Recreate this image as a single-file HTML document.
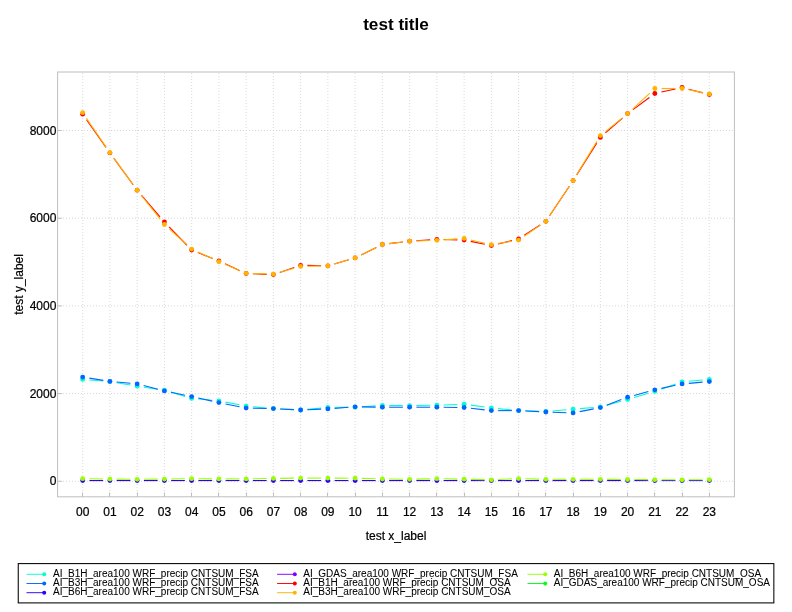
<!DOCTYPE html>
<html lang="en">
<head>
<meta charset="utf-8">
<title>test title</title>
<style>
html,body{margin:0;padding:0;background:#fff;}
body{width:792px;height:612px;overflow:hidden;}
svg{display:block;}
text{font-family:"Liberation Sans", sans-serif;fill:#000;}
.ax text{stroke:#000;stroke-width:0.22px;stroke-linejoin:round;}
.lg text{stroke:#000;stroke-width:0.06px;}
</style>
</head>
<body>
<svg width="792" height="612" viewBox="0 0 792 612">
<rect x="0" y="0" width="792" height="612" fill="#ffffff"/>
<text x="396" y="30.2" text-anchor="middle" font-size="17.15" font-weight="bold">test title</text>
<g stroke="#d1d1d1" stroke-width="0.8" stroke-dasharray="1 2" fill="none">
<line x1="82.67" y1="497" x2="82.67" y2="72.0"/>
<line x1="109.91" y1="497" x2="109.91" y2="72.0"/>
<line x1="137.16" y1="497" x2="137.16" y2="72.0"/>
<line x1="164.41" y1="497" x2="164.41" y2="72.0"/>
<line x1="191.65" y1="497" x2="191.65" y2="72.0"/>
<line x1="218.90" y1="497" x2="218.90" y2="72.0"/>
<line x1="246.14" y1="497" x2="246.14" y2="72.0"/>
<line x1="273.39" y1="497" x2="273.39" y2="72.0"/>
<line x1="300.64" y1="497" x2="300.64" y2="72.0"/>
<line x1="327.88" y1="497" x2="327.88" y2="72.0"/>
<line x1="355.13" y1="497" x2="355.13" y2="72.0"/>
<line x1="382.38" y1="497" x2="382.38" y2="72.0"/>
<line x1="409.62" y1="497" x2="409.62" y2="72.0"/>
<line x1="436.87" y1="497" x2="436.87" y2="72.0"/>
<line x1="464.12" y1="497" x2="464.12" y2="72.0"/>
<line x1="491.36" y1="497" x2="491.36" y2="72.0"/>
<line x1="518.61" y1="497" x2="518.61" y2="72.0"/>
<line x1="545.86" y1="497" x2="545.86" y2="72.0"/>
<line x1="573.10" y1="497" x2="573.10" y2="72.0"/>
<line x1="600.35" y1="497" x2="600.35" y2="72.0"/>
<line x1="627.59" y1="497" x2="627.59" y2="72.0"/>
<line x1="654.84" y1="497" x2="654.84" y2="72.0"/>
<line x1="682.09" y1="497" x2="682.09" y2="72.0"/>
<line x1="709.33" y1="497" x2="709.33" y2="72.0"/>
<line x1="57" y1="481.29" x2="734.4" y2="481.29" stroke-width="0.9"/>
<line x1="57" y1="393.60" x2="734.4" y2="393.60" stroke-width="0.9"/>
<line x1="57" y1="305.91" x2="734.4" y2="305.91" stroke-width="0.9"/>
<line x1="57" y1="218.22" x2="734.4" y2="218.22" stroke-width="0.9"/>
<line x1="57" y1="130.53" x2="734.4" y2="130.53" stroke-width="0.9"/>
</g>
<g stroke="#00FFD4" stroke-width="1.1" stroke-linecap="butt" fill="#00FFD4">
<line x1="89.39" y1="379.94" x2="103.18" y2="381.06"/>
<line x1="116.57" y1="382.72" x2="130.50" y2="385.08"/>
<line x1="143.84" y1="387.18" x2="157.73" y2="389.22"/>
<line x1="170.87" y1="392.15" x2="185.19" y2="396.45"/>
<line x1="198.38" y1="398.99" x2="212.17" y2="400.21"/>
<line x1="225.52" y1="402.09" x2="239.52" y2="404.81"/>
<line x1="252.87" y1="406.72" x2="266.67" y2="407.98"/>
<line x1="280.13" y1="408.95" x2="293.90" y2="409.65"/>
<line x1="307.35" y1="409.33" x2="321.17" y2="407.97"/>
<line x1="334.63" y1="407.28" x2="348.38" y2="407.22"/>
<line x1="361.87" y1="406.76" x2="375.64" y2="405.84"/>
<line x1="389.13" y1="405.45" x2="402.87" y2="405.55"/>
<line x1="416.37" y1="405.50" x2="430.12" y2="405.30"/>
<line x1="443.62" y1="404.95" x2="457.37" y2="404.45"/>
<line x1="470.80" y1="405.13" x2="484.68" y2="407.07"/>
<line x1="498.08" y1="408.64" x2="511.89" y2="409.96"/>
<line x1="525.36" y1="410.82" x2="539.11" y2="411.28"/>
<line x1="552.58" y1="410.93" x2="566.38" y2="409.77"/>
<line x1="579.83" y1="408.66" x2="593.62" y2="407.54"/>
<line x1="606.86" y1="405.21" x2="621.09" y2="401.29"/>
<line x1="634.06" y1="397.58" x2="648.37" y2="393.32"/>
<line x1="661.21" y1="389.16" x2="675.72" y2="384.04"/>
<line x1="688.81" y1="381.23" x2="702.61" y2="380.07"/>
<circle cx="82.67" cy="379.40" r="2.42" stroke="none"/>
<circle cx="109.91" cy="381.60" r="2.42" stroke="none"/>
<circle cx="137.16" cy="386.20" r="2.42" stroke="none"/>
<circle cx="164.41" cy="390.20" r="2.42" stroke="none"/>
<circle cx="191.65" cy="398.40" r="2.42" stroke="none"/>
<circle cx="218.90" cy="400.80" r="2.42" stroke="none"/>
<circle cx="246.14" cy="406.10" r="2.42" stroke="none"/>
<circle cx="273.39" cy="408.60" r="2.42" stroke="none"/>
<circle cx="300.64" cy="410.00" r="2.42" stroke="none"/>
<circle cx="327.88" cy="407.30" r="2.42" stroke="none"/>
<circle cx="355.13" cy="407.20" r="2.42" stroke="none"/>
<circle cx="382.38" cy="405.40" r="2.42" stroke="none"/>
<circle cx="409.62" cy="405.60" r="2.42" stroke="none"/>
<circle cx="436.87" cy="405.20" r="2.42" stroke="none"/>
<circle cx="464.12" cy="404.20" r="2.42" stroke="none"/>
<circle cx="491.36" cy="408.00" r="2.42" stroke="none"/>
<circle cx="518.61" cy="410.60" r="2.42" stroke="none"/>
<circle cx="545.86" cy="411.50" r="2.42" stroke="none"/>
<circle cx="573.10" cy="409.20" r="2.42" stroke="none"/>
<circle cx="600.35" cy="407.00" r="2.42" stroke="none"/>
<circle cx="627.59" cy="399.50" r="2.42" stroke="none"/>
<circle cx="654.84" cy="391.40" r="2.42" stroke="none"/>
<circle cx="682.09" cy="381.80" r="2.42" stroke="none"/>
<circle cx="709.33" cy="379.50" r="2.42" stroke="none"/>
</g>
<g stroke="#0066FF" stroke-width="1.1" stroke-linecap="butt" fill="#0066FF">
<line x1="89.33" y1="378.15" x2="103.25" y2="380.35"/>
<line x1="116.63" y1="382.02" x2="130.44" y2="383.28"/>
<line x1="143.70" y1="385.58" x2="157.87" y2="389.22"/>
<line x1="171.01" y1="392.28" x2="185.05" y2="395.22"/>
<line x1="198.24" y1="398.05" x2="212.31" y2="401.15"/>
<line x1="225.52" y1="403.94" x2="239.53" y2="406.76"/>
<line x1="252.89" y1="408.22" x2="266.64" y2="408.48"/>
<line x1="280.13" y1="408.95" x2="293.90" y2="409.65"/>
<line x1="307.38" y1="409.73" x2="321.14" y2="409.17"/>
<line x1="334.61" y1="408.38" x2="348.40" y2="407.32"/>
<line x1="361.88" y1="406.90" x2="375.63" y2="407.10"/>
<line x1="389.13" y1="407.20" x2="402.87" y2="407.20"/>
<line x1="416.37" y1="407.20" x2="430.12" y2="407.20"/>
<line x1="443.62" y1="407.27" x2="457.37" y2="407.43"/>
<line x1="470.82" y1="408.26" x2="484.66" y2="409.84"/>
<line x1="498.11" y1="410.60" x2="511.86" y2="410.60"/>
<line x1="525.35" y1="410.95" x2="539.11" y2="411.65"/>
<line x1="552.60" y1="412.22" x2="566.36" y2="412.68"/>
<line x1="579.73" y1="411.61" x2="593.72" y2="408.89"/>
<line x1="606.65" y1="405.19" x2="621.29" y2="399.61"/>
<line x1="634.11" y1="395.43" x2="648.33" y2="391.57"/>
<line x1="661.44" y1="388.37" x2="675.49" y2="385.33"/>
<line x1="688.81" y1="383.33" x2="702.61" y2="382.17"/>
<circle cx="82.67" cy="377.10" r="2.42" stroke="none"/>
<circle cx="109.91" cy="381.40" r="2.42" stroke="none"/>
<circle cx="137.16" cy="383.90" r="2.42" stroke="none"/>
<circle cx="164.41" cy="390.90" r="2.42" stroke="none"/>
<circle cx="191.65" cy="396.60" r="2.42" stroke="none"/>
<circle cx="218.90" cy="402.60" r="2.42" stroke="none"/>
<circle cx="246.14" cy="408.10" r="2.42" stroke="none"/>
<circle cx="273.39" cy="408.60" r="2.42" stroke="none"/>
<circle cx="300.64" cy="410.00" r="2.42" stroke="none"/>
<circle cx="327.88" cy="408.90" r="2.42" stroke="none"/>
<circle cx="355.13" cy="406.80" r="2.42" stroke="none"/>
<circle cx="382.38" cy="407.20" r="2.42" stroke="none"/>
<circle cx="409.62" cy="407.20" r="2.42" stroke="none"/>
<circle cx="436.87" cy="407.20" r="2.42" stroke="none"/>
<circle cx="464.12" cy="407.50" r="2.42" stroke="none"/>
<circle cx="491.36" cy="410.60" r="2.42" stroke="none"/>
<circle cx="518.61" cy="410.60" r="2.42" stroke="none"/>
<circle cx="545.86" cy="412.00" r="2.42" stroke="none"/>
<circle cx="573.10" cy="412.90" r="2.42" stroke="none"/>
<circle cx="600.35" cy="407.60" r="2.42" stroke="none"/>
<circle cx="627.59" cy="397.20" r="2.42" stroke="none"/>
<circle cx="654.84" cy="389.80" r="2.42" stroke="none"/>
<circle cx="682.09" cy="383.90" r="2.42" stroke="none"/>
<circle cx="709.33" cy="381.60" r="2.42" stroke="none"/>
</g>
<g stroke="#2B00FF" stroke-width="1.1" stroke-linecap="butt" fill="#2B00FF">
<line x1="89.42" y1="480.55" x2="103.16" y2="480.55"/>
<line x1="116.66" y1="480.55" x2="130.41" y2="480.55"/>
<line x1="143.91" y1="480.55" x2="157.66" y2="480.55"/>
<line x1="171.16" y1="480.55" x2="184.90" y2="480.55"/>
<line x1="198.40" y1="480.55" x2="212.15" y2="480.55"/>
<line x1="225.65" y1="480.55" x2="239.39" y2="480.55"/>
<line x1="252.89" y1="480.55" x2="266.64" y2="480.55"/>
<line x1="280.14" y1="480.55" x2="293.89" y2="480.55"/>
<line x1="307.39" y1="480.55" x2="321.13" y2="480.55"/>
<line x1="334.63" y1="480.55" x2="348.38" y2="480.55"/>
<line x1="361.88" y1="480.55" x2="375.63" y2="480.55"/>
<line x1="389.13" y1="480.55" x2="402.87" y2="480.55"/>
<line x1="416.37" y1="480.55" x2="430.12" y2="480.55"/>
<line x1="443.62" y1="480.55" x2="457.37" y2="480.55"/>
<line x1="470.87" y1="480.55" x2="484.61" y2="480.55"/>
<line x1="498.11" y1="480.55" x2="511.86" y2="480.55"/>
<line x1="525.36" y1="480.55" x2="539.11" y2="480.55"/>
<line x1="552.61" y1="480.55" x2="566.35" y2="480.55"/>
<line x1="579.85" y1="480.55" x2="593.60" y2="480.55"/>
<line x1="607.10" y1="480.55" x2="620.84" y2="480.55"/>
<line x1="634.34" y1="480.55" x2="648.09" y2="480.55"/>
<line x1="661.59" y1="480.55" x2="675.34" y2="480.55"/>
<line x1="688.84" y1="480.55" x2="702.58" y2="480.55"/>
<circle cx="82.67" cy="480.55" r="2.42" stroke="none"/>
<circle cx="109.91" cy="480.55" r="2.42" stroke="none"/>
<circle cx="137.16" cy="480.55" r="2.42" stroke="none"/>
<circle cx="164.41" cy="480.55" r="2.42" stroke="none"/>
<circle cx="191.65" cy="480.55" r="2.42" stroke="none"/>
<circle cx="218.90" cy="480.55" r="2.42" stroke="none"/>
<circle cx="246.14" cy="480.55" r="2.42" stroke="none"/>
<circle cx="273.39" cy="480.55" r="2.42" stroke="none"/>
<circle cx="300.64" cy="480.55" r="2.42" stroke="none"/>
<circle cx="327.88" cy="480.55" r="2.42" stroke="none"/>
<circle cx="355.13" cy="480.55" r="2.42" stroke="none"/>
<circle cx="382.38" cy="480.55" r="2.42" stroke="none"/>
<circle cx="409.62" cy="480.55" r="2.42" stroke="none"/>
<circle cx="436.87" cy="480.55" r="2.42" stroke="none"/>
<circle cx="464.12" cy="480.55" r="2.42" stroke="none"/>
<circle cx="491.36" cy="480.55" r="2.42" stroke="none"/>
<circle cx="518.61" cy="480.55" r="2.42" stroke="none"/>
<circle cx="545.86" cy="480.55" r="2.42" stroke="none"/>
<circle cx="573.10" cy="480.55" r="2.42" stroke="none"/>
<circle cx="600.35" cy="480.55" r="2.42" stroke="none"/>
<circle cx="627.59" cy="480.55" r="2.42" stroke="none"/>
<circle cx="654.84" cy="480.55" r="2.42" stroke="none"/>
<circle cx="682.09" cy="480.55" r="2.42" stroke="none"/>
<circle cx="709.33" cy="480.55" r="2.42" stroke="none"/>
</g>
<g stroke="#FF0000" stroke-width="1.1" stroke-linecap="butt" fill="#FF0000">
<line x1="86.55" y1="119.72" x2="106.03" y2="147.38"/>
<line x1="113.89" y1="158.35" x2="133.18" y2="184.75"/>
<line x1="141.55" y1="195.33" x2="160.01" y2="216.87"/>
<line x1="169.10" y1="226.85" x2="186.95" y2="245.25"/>
<line x1="197.92" y1="252.61" x2="212.63" y2="258.49"/>
<line x1="225.03" y1="263.81" x2="240.01" y2="270.69"/>
<line x1="252.89" y1="273.77" x2="266.65" y2="274.33"/>
<line x1="279.78" y1="272.42" x2="294.25" y2="267.48"/>
<line x1="307.39" y1="265.42" x2="321.14" y2="265.68"/>
<line x1="334.37" y1="263.92" x2="348.65" y2="259.78"/>
<line x1="361.18" y1="254.90" x2="376.33" y2="247.40"/>
<line x1="389.08" y1="243.61" x2="402.92" y2="241.99"/>
<line x1="416.36" y1="240.73" x2="430.14" y2="239.77"/>
<line x1="443.62" y1="239.47" x2="457.37" y2="239.83"/>
<line x1="470.73" y1="241.36" x2="484.75" y2="244.24"/>
<line x1="497.92" y1="244.01" x2="512.05" y2="240.59"/>
<line x1="524.27" y1="235.32" x2="540.19" y2="224.98"/>
<line x1="549.61" y1="215.69" x2="569.35" y2="186.21"/>
<line x1="576.70" y1="174.89" x2="596.75" y2="143.11"/>
<line x1="605.43" y1="132.96" x2="622.51" y2="118.04"/>
<line x1="633.03" y1="109.59" x2="649.41" y2="97.51"/>
<line x1="661.43" y1="92.05" x2="675.49" y2="88.95"/>
<line x1="688.62" y1="89.20" x2="702.80" y2="92.90"/>
<circle cx="82.67" cy="114.20" r="2.42" stroke="none"/>
<circle cx="109.91" cy="152.90" r="2.42" stroke="none"/>
<circle cx="137.16" cy="190.20" r="2.42" stroke="none"/>
<circle cx="164.41" cy="222.00" r="2.42" stroke="none"/>
<circle cx="191.65" cy="250.10" r="2.42" stroke="none"/>
<circle cx="218.90" cy="261.00" r="2.42" stroke="none"/>
<circle cx="246.14" cy="273.50" r="2.42" stroke="none"/>
<circle cx="273.39" cy="274.60" r="2.42" stroke="none"/>
<circle cx="300.64" cy="265.30" r="2.42" stroke="none"/>
<circle cx="327.88" cy="265.80" r="2.42" stroke="none"/>
<circle cx="355.13" cy="257.90" r="2.42" stroke="none"/>
<circle cx="382.38" cy="244.40" r="2.42" stroke="none"/>
<circle cx="409.62" cy="241.20" r="2.42" stroke="none"/>
<circle cx="436.87" cy="239.30" r="2.42" stroke="none"/>
<circle cx="464.12" cy="240.00" r="2.42" stroke="none"/>
<circle cx="491.36" cy="245.60" r="2.42" stroke="none"/>
<circle cx="518.61" cy="239.00" r="2.42" stroke="none"/>
<circle cx="545.86" cy="221.30" r="2.42" stroke="none"/>
<circle cx="573.10" cy="180.60" r="2.42" stroke="none"/>
<circle cx="600.35" cy="137.40" r="2.42" stroke="none"/>
<circle cx="627.59" cy="113.60" r="2.42" stroke="none"/>
<circle cx="654.84" cy="93.50" r="2.42" stroke="none"/>
<circle cx="682.09" cy="87.50" r="2.42" stroke="none"/>
<circle cx="709.33" cy="94.60" r="2.42" stroke="none"/>
</g>
<g stroke="#FFB300" stroke-width="1.1" stroke-linecap="butt" fill="#FFB300">
<line x1="86.47" y1="118.28" x2="106.11" y2="147.12"/>
<line x1="113.88" y1="158.16" x2="133.19" y2="184.74"/>
<line x1="141.36" y1="195.49" x2="160.21" y2="219.21"/>
<line x1="169.42" y1="229.02" x2="186.64" y2="244.58"/>
<line x1="197.78" y1="251.93" x2="212.77" y2="258.87"/>
<line x1="225.11" y1="264.34" x2="239.93" y2="270.66"/>
<line x1="252.89" y1="273.50" x2="266.64" y2="273.90"/>
<line x1="279.89" y1="272.26" x2="294.14" y2="268.24"/>
<line x1="307.39" y1="266.25" x2="321.14" y2="265.95"/>
<line x1="334.37" y1="263.92" x2="348.65" y2="259.78"/>
<line x1="361.18" y1="254.90" x2="376.33" y2="247.40"/>
<line x1="389.08" y1="243.61" x2="402.92" y2="241.99"/>
<line x1="416.37" y1="240.98" x2="430.12" y2="240.52"/>
<line x1="443.60" y1="239.83" x2="457.38" y2="238.87"/>
<line x1="470.69" y1="239.92" x2="484.79" y2="243.18"/>
<line x1="498.02" y1="243.58" x2="511.95" y2="241.22"/>
<line x1="524.16" y1="236.27" x2="540.30" y2="225.13"/>
<line x1="549.61" y1="215.69" x2="569.35" y2="186.21"/>
<line x1="576.60" y1="174.83" x2="596.85" y2="141.37"/>
<line x1="605.60" y1="131.36" x2="622.34" y2="117.84"/>
<line x1="632.56" y1="109.03" x2="649.88" y2="93.07"/>
<line x1="661.59" y1="88.50" x2="675.34" y2="88.50"/>
<line x1="688.71" y1="89.81" x2="702.71" y2="92.59"/>
<circle cx="82.67" cy="112.70" r="2.42" stroke="none"/>
<circle cx="109.91" cy="152.70" r="2.42" stroke="none"/>
<circle cx="137.16" cy="190.20" r="2.42" stroke="none"/>
<circle cx="164.41" cy="224.50" r="2.42" stroke="none"/>
<circle cx="191.65" cy="249.10" r="2.42" stroke="none"/>
<circle cx="218.90" cy="261.70" r="2.42" stroke="none"/>
<circle cx="246.14" cy="273.30" r="2.42" stroke="none"/>
<circle cx="273.39" cy="274.10" r="2.42" stroke="none"/>
<circle cx="300.64" cy="266.40" r="2.42" stroke="none"/>
<circle cx="327.88" cy="265.80" r="2.42" stroke="none"/>
<circle cx="355.13" cy="257.90" r="2.42" stroke="none"/>
<circle cx="382.38" cy="244.40" r="2.42" stroke="none"/>
<circle cx="409.62" cy="241.20" r="2.42" stroke="none"/>
<circle cx="436.87" cy="240.30" r="2.42" stroke="none"/>
<circle cx="464.12" cy="238.40" r="2.42" stroke="none"/>
<circle cx="491.36" cy="244.70" r="2.42" stroke="none"/>
<circle cx="518.61" cy="240.10" r="2.42" stroke="none"/>
<circle cx="545.86" cy="221.30" r="2.42" stroke="none"/>
<circle cx="573.10" cy="180.60" r="2.42" stroke="none"/>
<circle cx="600.35" cy="135.60" r="2.42" stroke="none"/>
<circle cx="627.59" cy="113.60" r="2.42" stroke="none"/>
<circle cx="654.84" cy="88.50" r="2.42" stroke="none"/>
<circle cx="682.09" cy="88.50" r="2.42" stroke="none"/>
<circle cx="709.33" cy="93.90" r="2.42" stroke="none"/>
</g>
<g stroke="#99FF00" stroke-width="1.1" stroke-linecap="butt" fill="#99FF00">
<line x1="89.42" y1="478.80" x2="103.16" y2="479.00"/>
<line x1="116.66" y1="479.15" x2="130.41" y2="479.25"/>
<line x1="143.91" y1="479.25" x2="157.66" y2="479.15"/>
<line x1="171.16" y1="479.00" x2="184.90" y2="478.80"/>
<line x1="198.40" y1="478.75" x2="212.15" y2="478.85"/>
<line x1="225.65" y1="478.90" x2="239.39" y2="478.90"/>
<line x1="252.89" y1="478.78" x2="266.64" y2="478.52"/>
<line x1="280.14" y1="478.33" x2="293.89" y2="478.17"/>
<line x1="307.39" y1="478.10" x2="321.13" y2="478.10"/>
<line x1="334.63" y1="478.12" x2="348.38" y2="478.18"/>
<line x1="361.88" y1="478.40" x2="375.63" y2="478.80"/>
<line x1="389.13" y1="479.07" x2="402.87" y2="479.23"/>
<line x1="416.37" y1="479.15" x2="430.12" y2="478.85"/>
<line x1="443.62" y1="478.82" x2="457.37" y2="479.08"/>
<line x1="470.86" y1="479.35" x2="484.61" y2="479.65"/>
<line x1="498.11" y1="479.50" x2="511.87" y2="478.90"/>
<line x1="525.36" y1="478.77" x2="539.11" y2="479.13"/>
<line x1="552.61" y1="479.30" x2="566.35" y2="479.30"/>
<line x1="579.85" y1="479.30" x2="593.60" y2="479.30"/>
<line x1="607.10" y1="479.35" x2="620.84" y2="479.45"/>
<line x1="634.34" y1="479.55" x2="648.09" y2="479.65"/>
<line x1="661.59" y1="479.72" x2="675.34" y2="479.78"/>
<line x1="688.84" y1="479.78" x2="702.58" y2="479.72"/>
<circle cx="82.67" cy="478.70" r="2.42" stroke="none"/>
<circle cx="109.91" cy="479.10" r="2.42" stroke="none"/>
<circle cx="137.16" cy="479.30" r="2.42" stroke="none"/>
<circle cx="164.41" cy="479.10" r="2.42" stroke="none"/>
<circle cx="191.65" cy="478.70" r="2.42" stroke="none"/>
<circle cx="218.90" cy="478.90" r="2.42" stroke="none"/>
<circle cx="246.14" cy="478.90" r="2.42" stroke="none"/>
<circle cx="273.39" cy="478.40" r="2.42" stroke="none"/>
<circle cx="300.64" cy="478.10" r="2.42" stroke="none"/>
<circle cx="327.88" cy="478.10" r="2.42" stroke="none"/>
<circle cx="355.13" cy="478.20" r="2.42" stroke="none"/>
<circle cx="382.38" cy="479.00" r="2.42" stroke="none"/>
<circle cx="409.62" cy="479.30" r="2.42" stroke="none"/>
<circle cx="436.87" cy="478.70" r="2.42" stroke="none"/>
<circle cx="464.12" cy="479.20" r="2.42" stroke="none"/>
<circle cx="491.36" cy="479.80" r="2.42" stroke="none"/>
<circle cx="518.61" cy="478.60" r="2.42" stroke="none"/>
<circle cx="545.86" cy="479.30" r="2.42" stroke="none"/>
<circle cx="573.10" cy="479.30" r="2.42" stroke="none"/>
<circle cx="600.35" cy="479.30" r="2.42" stroke="none"/>
<circle cx="627.59" cy="479.50" r="2.42" stroke="none"/>
<circle cx="654.84" cy="479.70" r="2.42" stroke="none"/>
<circle cx="682.09" cy="479.80" r="2.42" stroke="none"/>
<circle cx="709.33" cy="479.70" r="2.42" stroke="none"/>
</g>
<g stroke="#bebebe" stroke-width="1" fill="none">
<rect x="57.6" y="72.0" width="676.8" height="424.8"/>
<line x1="82.50" y1="496.8" x2="82.50" y2="492.55"/>
<line x1="109.50" y1="496.8" x2="109.50" y2="492.55"/>
<line x1="137.50" y1="496.8" x2="137.50" y2="492.55"/>
<line x1="164.50" y1="496.8" x2="164.50" y2="492.55"/>
<line x1="191.50" y1="496.8" x2="191.50" y2="492.55"/>
<line x1="218.50" y1="496.8" x2="218.50" y2="492.55"/>
<line x1="246.50" y1="496.8" x2="246.50" y2="492.55"/>
<line x1="273.50" y1="496.8" x2="273.50" y2="492.55"/>
<line x1="300.50" y1="496.8" x2="300.50" y2="492.55"/>
<line x1="327.50" y1="496.8" x2="327.50" y2="492.55"/>
<line x1="355.50" y1="496.8" x2="355.50" y2="492.55"/>
<line x1="382.50" y1="496.8" x2="382.50" y2="492.55"/>
<line x1="409.50" y1="496.8" x2="409.50" y2="492.55"/>
<line x1="436.50" y1="496.8" x2="436.50" y2="492.55"/>
<line x1="464.50" y1="496.8" x2="464.50" y2="492.55"/>
<line x1="491.50" y1="496.8" x2="491.50" y2="492.55"/>
<line x1="518.50" y1="496.8" x2="518.50" y2="492.55"/>
<line x1="545.50" y1="496.8" x2="545.50" y2="492.55"/>
<line x1="573.50" y1="496.8" x2="573.50" y2="492.55"/>
<line x1="600.50" y1="496.8" x2="600.50" y2="492.55"/>
<line x1="627.50" y1="496.8" x2="627.50" y2="492.55"/>
<line x1="654.50" y1="496.8" x2="654.50" y2="492.55"/>
<line x1="682.50" y1="496.8" x2="682.50" y2="492.55"/>
<line x1="709.50" y1="496.8" x2="709.50" y2="492.55"/>
<line x1="57.6" y1="481.29" x2="61.85" y2="481.29"/>
<line x1="57.6" y1="393.60" x2="61.85" y2="393.60"/>
<line x1="57.6" y1="305.91" x2="61.85" y2="305.91"/>
<line x1="57.6" y1="218.22" x2="61.85" y2="218.22"/>
<line x1="57.6" y1="130.53" x2="61.85" y2="130.53"/>
</g>
<g class="ax" font-size="12">
<text x="82.67" y="515.9" text-anchor="middle">00</text>
<text x="109.91" y="515.9" text-anchor="middle">01</text>
<text x="137.16" y="515.9" text-anchor="middle">02</text>
<text x="164.41" y="515.9" text-anchor="middle">03</text>
<text x="191.65" y="515.9" text-anchor="middle">04</text>
<text x="218.90" y="515.9" text-anchor="middle">05</text>
<text x="246.14" y="515.9" text-anchor="middle">06</text>
<text x="273.39" y="515.9" text-anchor="middle">07</text>
<text x="300.64" y="515.9" text-anchor="middle">08</text>
<text x="327.88" y="515.9" text-anchor="middle">09</text>
<text x="355.13" y="515.9" text-anchor="middle">10</text>
<text x="382.38" y="515.9" text-anchor="middle">11</text>
<text x="409.62" y="515.9" text-anchor="middle">12</text>
<text x="436.87" y="515.9" text-anchor="middle">13</text>
<text x="464.12" y="515.9" text-anchor="middle">14</text>
<text x="491.36" y="515.9" text-anchor="middle">15</text>
<text x="518.61" y="515.9" text-anchor="middle">16</text>
<text x="545.86" y="515.9" text-anchor="middle">17</text>
<text x="573.10" y="515.9" text-anchor="middle">18</text>
<text x="600.35" y="515.9" text-anchor="middle">19</text>
<text x="627.59" y="515.9" text-anchor="middle">20</text>
<text x="654.84" y="515.9" text-anchor="middle">21</text>
<text x="682.09" y="515.9" text-anchor="middle">22</text>
<text x="709.33" y="515.9" text-anchor="middle">23</text>
<text x="56.4" y="485.49" text-anchor="end">0</text>
<text x="56.4" y="397.80" text-anchor="end">2000</text>
<text x="56.4" y="310.11" text-anchor="end">4000</text>
<text x="56.4" y="222.42" text-anchor="end">6000</text>
<text x="56.4" y="134.73" text-anchor="end">8000</text>
<text x="396" y="539.8" text-anchor="middle">test x_label</text>
<text transform="translate(23.1,284.4) rotate(-90)" text-anchor="middle">test y_label</text>
</g>
<rect x="18.25" y="563.6" width="755.6" height="39.3" fill="#ffffff" stroke="#000000" stroke-width="1.05"/>
<g class="lg" font-size="10">
<line x1="26.5" y1="574.3" x2="44.2" y2="574.3" stroke="#00FFD4" stroke-width="0.95"/>
<circle cx="44.2" cy="574.3" r="2" fill="#00FFD4"/>
<text x="53.0" y="577">AI_B1H_area100 WRF_precip CNTSUM_FSA</text>
<line x1="26.5" y1="583.5" x2="44.2" y2="583.5" stroke="#0066FF" stroke-width="0.95"/>
<circle cx="44.2" cy="583.5" r="2" fill="#0066FF"/>
<text x="53.0" y="586">AI_B3H_area100 WRF_precip CNTSUM_FSA</text>
<line x1="26.5" y1="592.7" x2="44.2" y2="592.7" stroke="#2B00FF" stroke-width="0.95"/>
<circle cx="44.2" cy="592.7" r="2" fill="#2B00FF"/>
<text x="53.0" y="595">AI_B6H_area100 WRF_precip CNTSUM_FSA</text>
<line x1="277.1" y1="574.3" x2="294.8" y2="574.3" stroke="#8000FF" stroke-width="0.95"/>
<circle cx="294.8" cy="574.3" r="2" fill="#8000FF"/>
<text x="303.3" y="577">AI_GDAS_area100 WRF_precip CNTSUM_FSA</text>
<line x1="277.1" y1="583.5" x2="294.8" y2="583.5" stroke="#FF0000" stroke-width="0.95"/>
<circle cx="294.8" cy="583.5" r="2" fill="#FF0000"/>
<text x="303.3" y="586">AI_B1H_area100 WRF_precip CNTSUM_OSA</text>
<line x1="277.1" y1="592.7" x2="294.8" y2="592.7" stroke="#FFB300" stroke-width="0.95"/>
<circle cx="294.8" cy="592.7" r="2" fill="#FFB300"/>
<text x="303.3" y="595">AI_B3H_area100 WRF_precip CNTSUM_OSA</text>
<line x1="527.5" y1="574.3" x2="545.2" y2="574.3" stroke="#99FF00" stroke-width="0.95"/>
<circle cx="545.2" cy="574.3" r="2" fill="#99FF00"/>
<text x="553.8" y="577">AI_B6H_area100 WRF_precip CNTSUM_OSA</text>
<line x1="527.5" y1="583.5" x2="545.2" y2="583.5" stroke="#00FF1A" stroke-width="0.95"/>
<circle cx="545.2" cy="583.5" r="2" fill="#00FF1A"/>
<text x="553.8" y="586">AI_GDAS_area100 WRF_precip CNTSUM_OSA</text>
</g>
</svg>
</body>
</html>
